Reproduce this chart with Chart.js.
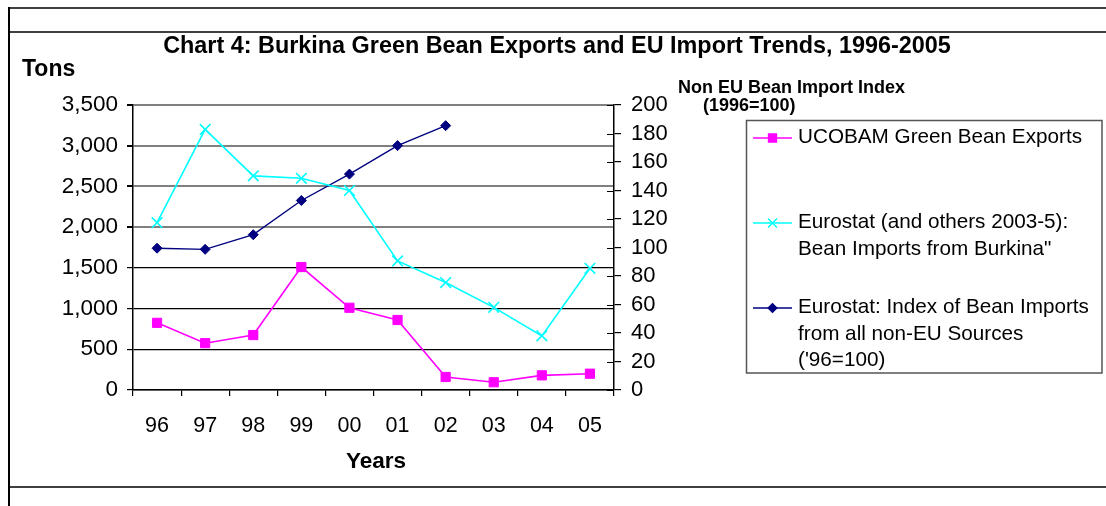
<!DOCTYPE html>
<html>
<head>
<meta charset="utf-8">
<script src="https://cdn.jsdelivr.net/npm/chart.js@4/dist/chart.umd.min.js"></script>
<style>
  html, body { margin: 0; padding: 0; background: #fff; }
  #wrap { position: relative; width: 1106px; height: 506px; }
</style>
</head>
<body>
<div id="wrap"><canvas id="c" width="1106" height="506"></canvas></div>
<script>
// ---- Data ----
const years = ['96', '97', '98', '99', '00', '01', '02', '03', '04', '05'];
const ucobamExports = [825, 575, 675, 1510, 1010, 860, 160, 95, 180, 200];
const eurostatBurkina = [2055, 3200, 2630, 2600, 2450, 1585, 1320, 1015, 665, 1495];
const nonEuIndex = [99.5, 98.7, 109, 133, 151.5, 171.5, 185.5, null, null, null];
const tonsTicks = [0, 500, 1000, 1500, 2000, 2500, 3000, 3500];
const indexTicks = [0, 20, 40, 60, 80, 100, 120, 140, 160, 180, 200];

const labelsUcobam = ['UCOBAM Green Bean Exports'];
const labelsBurkina = ['Eurostat (and others 2003-5):', 'Bean Imports from Burkina"'];
const labelsIndex = ['Eurostat: Index of Bean Imports', 'from all non-EU Sources', "('96=100)"];

const titleText = 'Chart 4: Burkina Green Bean Exports and EU Import Trends, 1996-2005';
const leftAxisTitle = 'Tons';
const rightAxisTitle = ['Non EU Bean Import Index', '(1996=100)'];
const xAxisTitle = 'Years';

const FONT = "'Liberation Sans', Arial, sans-serif";

const extrasPlugin = {
  id: 'extras',
  beforeDraw(chart) {
    const ctx = chart.ctx;
    ctx.save();
    ctx.fillStyle = '#fff';
    ctx.fillRect(0, 0, chart.width, chart.height);
    // sheet frame lines
    ctx.strokeStyle = '#404040';
    ctx.lineWidth = 2;
    ctx.beginPath();
    ctx.moveTo(8, 8); ctx.lineTo(1106, 8);
    ctx.moveTo(8, 32); ctx.lineTo(1106, 32);
    ctx.moveTo(8, 487); ctx.lineTo(1106, 487);
    ctx.stroke();
    ctx.strokeStyle = '#000';
    ctx.beginPath();
    ctx.moveTo(9, 7); ctx.lineTo(9, 506);
    ctx.stroke();
    ctx.restore();
  },
  afterDraw(chart) {
    const ctx = chart.ctx;
    ctx.save();
    ctx.fillStyle = '#000';
    ctx.textBaseline = 'alphabetic';
    // title
    ctx.font = 'bold 23.4px ' + FONT;
    ctx.textAlign = 'center';
    ctx.fillText(titleText, 557, 53);
    // Tons
    ctx.font = 'bold 23px ' + FONT;
    ctx.textAlign = 'left';
    ctx.fillText(leftAxisTitle, 22, 76);
    // right axis title
    ctx.font = 'bold 18px ' + FONT;
    ctx.fillText(rightAxisTitle[0], 678, 93);
    ctx.fillText(rightAxisTitle[1], 703, 111);
    // Years
    ctx.font = 'bold 22.5px ' + FONT;
    ctx.textAlign = 'center';
    ctx.fillText(xAxisTitle, 376, 468);

    // inner half of right axis tick marks
    const y1 = chart.scales.y1;
    ctx.strokeStyle = '#000';
    ctx.lineWidth = 1.2;
    ctx.beginPath();
    indexTicks.forEach(v => {
      const py = Math.round(y1.getPixelForValue(v)) + 0.5;
      ctx.moveTo(y1.left - 7, py);
      ctx.lineTo(y1.left, py);
    });
    ctx.stroke();

    // legend
    const lx = 746.5, ly = 120.5, lw = 355.5, lh = 252.5;
    ctx.strokeStyle = '#555';
    ctx.lineWidth = 1.5;
    ctx.strokeRect(lx, ly, lw, lh);
    const entries = [
      { ds: chart.data.datasets[0], lines: labelsUcobam, sy: 138 },
      { ds: chart.data.datasets[1], lines: labelsBurkina, sy: 223 },
      { ds: chart.data.datasets[2], lines: labelsIndex, sy: 308 }
    ];
    entries.forEach(e => {
      ctx.strokeStyle = e.ds.borderColor;
      ctx.lineWidth = 1.5;
      ctx.beginPath();
      ctx.moveTo(753, e.sy);
      ctx.lineTo(792, e.sy);
      ctx.stroke();
      ctx.fillStyle = e.ds.pointBackgroundColor;
      ctx.strokeStyle = e.ds.pointBorderColor;
      Chart.helpers.drawPoint(ctx, {
        pointStyle: e.ds.pointStyle,
        radius: e.ds.pointRadius * 0.85,
        rotation: 0,
        borderWidth: e.ds.pointBorderWidth
      }, 772.5, e.sy);
      ctx.fillStyle = '#000';
      ctx.font = '20.7px ' + FONT;
      ctx.textAlign = 'left';
      e.lines.forEach((t, i) => {
        ctx.fillText(t, 798, e.sy + 5 + i * 26.5);
      });
    });
    ctx.restore();
  }
};

new Chart(document.getElementById('c'), {
  type: 'line',
  data: {
    labels: years,
    datasets: [
      {
        label: labelsUcobam.join(' '),
        data: ucobamExports,
        yAxisID: 'y',
        borderColor: '#ff00ff',
        backgroundColor: '#ff00ff',
        borderWidth: 1.6,
        pointStyle: 'rect',
        pointRadius: 6.5,
        pointBackgroundColor: '#ff00ff',
        pointBorderColor: '#ff00ff',
        pointBorderWidth: 1,
        tension: 0
      },
      {
        label: labelsBurkina.join(' '),
        data: eurostatBurkina,
        yAxisID: 'y',
        borderColor: '#00ffff',
        backgroundColor: '#00ffff',
        borderWidth: 1.6,
        pointStyle: 'crossRot',
        pointRadius: 7.5,
        pointBackgroundColor: '#00ffff',
        pointBorderColor: '#00ffff',
        pointBorderWidth: 1.6,
        tension: 0
      },
      {
        label: labelsIndex.join(' '),
        data: nonEuIndex,
        yAxisID: 'y1',
        borderColor: '#000080',
        backgroundColor: '#000080',
        borderWidth: 1.4,
        pointStyle: 'rectRot',
        pointRadius: 5,
        pointBackgroundColor: '#000080',
        pointBorderColor: '#000080',
        pointBorderWidth: 1,
        spanGaps: false,
        tension: 0
      }
    ]
  },
  options: {
    responsive: false,
    animation: false,
    devicePixelRatio: 1,
    layout: { padding: { left: 0, right: 432, top: 105, bottom: 56 } },
    plugins: {
      legend: { display: false },
      title: { display: false },
      tooltip: { enabled: false }
    },
    scales: {
      x: {
        type: 'category',
        offset: true,
        grid: { offset: true, drawOnChartArea: false, drawTicks: true, tickLength: 6, color: '#000', lineWidth: 1.2 },
        border: { display: true, color: '#000', width: 1.5 },
        ticks: { color: '#000', font: { family: FONT, size: 21.5 }, padding: 17, maxRotation: 0, autoSkip: false },
        afterFit(s) { s.height = 60; }
      },
      y: {
        position: 'left',
        min: 0, max: 3500,
        afterBuildTicks(s) { s.ticks = tonsTicks.map(v => ({ value: v })); },
        ticks: {
          color: '#000',
          font: { family: FONT, size: 22.5 },
          padding: 9,
          autoSkip: false,
          callback: v => v.toLocaleString('en-US')
        },
        grid: {
          color: c => (c.tick && c.tick.value >= 2000) ? '#808080' : '#000',
          lineWidth: c => (c.tick && c.tick.value >= 2000) ? 2 : 1.2,
          tickColor: '#000',
          tickLength: 6
        },
        border: { display: true, color: '#000', width: 1.5 },
        afterFit(s) { s.width = 133; }
      },
      y1: {
        position: 'right',
        min: 0, max: 200,
        afterBuildTicks(s) { s.ticks = indexTicks.map(v => ({ value: v })); },
        ticks: { color: '#000', font: { family: FONT, size: 22 }, padding: 10, autoSkip: false },
        grid: { drawOnChartArea: false, tickLength: 7, color: '#000', lineWidth: 1.2 },
        border: { display: true, color: '#000', width: 1.5 },
        afterFit(s) { s.width = 60; }
      }
    }
  },
  plugins: [extrasPlugin]
});
</script>
</body>
</html>
